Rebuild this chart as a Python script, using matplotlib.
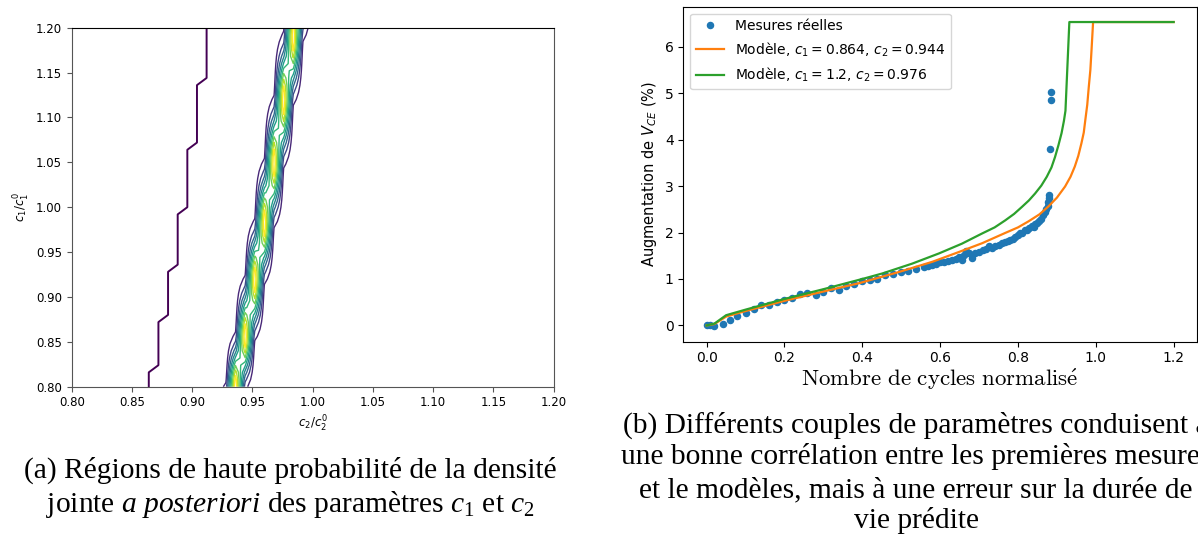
import numpy as np
import matplotlib
matplotlib.use("Agg")
import matplotlib.pyplot as plt
from matplotlib.colors import Normalize

plt.rcParams['mathtext.fontset'] = 'dejavusans'
plt.rcParams['mathtext.rm'] = 'Liberation Serif'
plt.rcParams['mathtext.it'] = 'Liberation Serif:italic'
plt.rcParams['mathtext.bf'] = 'Liberation Serif:bold'

# ---------------- data : panel (a) ----------------
# ridge of the posterior density (centres of the high-probability blobs)
ridge_c1 = [0.800, 0.856, 0.919, 0.982, 1.049, 1.119, 1.190, 1.200]
ridge_c2 = [0.936, 0.944, 0.952, 0.960, 0.968, 0.976, 0.984, 0.985]
# outer (lowest level) contour, staircase
stair_c2 = [0.864, 0.864, 0.872, 0.872, 0.880, 0.880, 0.888, 0.888,
            0.896, 0.896, 0.904, 0.904, 0.912, 0.912]
stair_c1 = [0.800, 0.816, 0.824, 0.872, 0.880, 0.928, 0.936, 0.992,
            1.000, 1.064, 1.072, 1.136, 1.144, 1.200]
ab_ticks = [0.80, 0.85, 0.90, 0.95, 1.00, 1.05, 1.10, 1.15, 1.20]

# ---------------- data : panel (b) ----------------
meas_x = [0.000, 0.008, 0.019, 0.041, 0.060, 0.078, 0.100, 0.121, 0.139, 0.160,
          0.181, 0.200, 0.220, 0.240, 0.258, 0.280, 0.298, 0.320, 0.339, 0.358,
          0.379, 0.399, 0.419, 0.439, 0.459, 0.479, 0.499, 0.518, 0.539, 0.558,
          0.570, 0.580, 0.590, 0.600, 0.610, 0.620, 0.630, 0.640, 0.648, 0.655,
          0.661, 0.666, 0.675, 0.682, 0.690, 0.700, 0.710, 0.718, 0.726, 0.734,
          0.742, 0.750, 0.758, 0.766, 0.774, 0.780, 0.787, 0.793, 0.799, 0.805,
          0.811, 0.817, 0.823, 0.829, 0.835, 0.840, 0.845, 0.850, 0.855, 0.860,
          0.865, 0.869, 0.873, 0.876, 0.878, 0.879, 0.880, 0.882, 0.884, 0.886]
meas_y = [0.00, 0.00, -0.02, 0.04, 0.11, 0.21, 0.27, 0.36, 0.45, 0.44,
          0.51, 0.54, 0.60, 0.68, 0.69, 0.66, 0.72, 0.80, 0.77, 0.85,
          0.90, 0.95, 0.98, 1.01, 1.09, 1.11, 1.16, 1.18, 1.22, 1.25,
          1.27, 1.30, 1.33, 1.36, 1.37, 1.38, 1.40, 1.42, 1.47, 1.41,
          1.51, 1.60, 1.55, 1.45, 1.55, 1.59, 1.62, 1.64, 1.70, 1.66,
          1.70, 1.73, 1.78, 1.79, 1.82, 1.84, 1.86, 1.90, 1.95, 2.00,
          1.98, 2.05, 2.06, 2.10, 2.15, 2.12, 2.18, 2.20, 2.24, 2.30,
          2.38, 2.44, 2.50, 2.57, 2.66, 2.74, 2.81, 3.80, 4.85, 5.03]

orange_x = [0.0, 0.02, 0.05, 0.10, 0.20, 0.30, 0.392, 0.494, 0.580, 0.648, 0.708,
            0.767, 0.800, 0.827, 0.855, 0.878, 0.900, 0.921, 0.935, 0.946, 0.955,
            0.963, 0.969, 0.973, 0.978, 0.982, 0.986, 0.989, 0.993, 1.2]
orange_y = [0.0, 0.03, 0.19, 0.31, 0.53, 0.73, 0.91, 1.15, 1.37, 1.58, 1.77,
            1.99, 2.11, 2.24, 2.39, 2.56, 2.75, 2.99, 3.20, 3.42, 3.65,
            3.92, 4.15, 4.42, 4.75, 5.14, 5.50, 5.93, 6.53, 6.53]
green_x = [0.0, 0.02, 0.05, 0.10, 0.20, 0.30, 0.40, 0.452, 0.528, 0.597, 0.656,
           0.708, 0.740, 0.767, 0.790, 0.810, 0.828, 0.844, 0.860, 0.874, 0.886,
           0.895, 0.904, 0.912, 0.918, 0.922, 0.932, 1.2]
green_y = [0.0, 0.04, 0.22, 0.34, 0.57, 0.78, 1.00, 1.12, 1.33, 1.55, 1.76,
           1.98, 2.11, 2.26, 2.40, 2.55, 2.69, 2.84, 3.01, 3.20, 3.40,
           3.62, 3.88, 4.14, 4.40, 4.62, 6.53, 6.53]

lbl_meas = "Mesures réelles"
lbl_orange = "Modèle, $c_1 = 0.864$, $c_2 = 0.944$"
lbl_green = "Modèle, $c_1 = 1.2$, $c_2 = 0.976$"

cap_a = ["(a) Régions de haute probabilité de la densité",
         r"jointe $\mathit{a\ posteriori}$ des paramètres $c_1$ et $c_2$"]
cap_b = ["(b) Différents couples de paramètres conduisent à",
         "une bonne corrélation entre les premières mesures",
         "et le modèles, mais à une erreur sur la durée de",
         "vie prédite"]

W, H = 1198, 535
fig = plt.figure(figsize=(W / 100, H / 100), dpi=100)


def ax_rect(l, t, r, b):
    return [l / W, 1 - b / H, (r - l) / W, (b - t) / H]


# ---------------- panel (a) ----------------
axa = fig.add_axes(ax_rect(71.7, 27.7, 553.5, 386.7))
step = 0.008
g = np.round(np.arange(0.80, 1.2 + step / 2, step), 4)
C2, C1 = np.meshgrid(g, g)
centre = np.interp(C1, ridge_c1, ridge_c2)
Z = np.exp(-0.5 * ((C2 - centre) / 0.004) ** 2)
levels = np.linspace(0.1, 0.9, 9)
axa.contour(C2, C1, Z, levels=levels, cmap='viridis',
            norm=Normalize(0.0, 0.9), linewidths=1.0)
axa.plot(stair_c2, stair_c1, color=plt.get_cmap('viridis')(0.0), lw=1.4)
axa.set_xlim(0.80, 1.20)
axa.set_ylim(0.80, 1.20)
axa.set_xticks(ab_ticks)
axa.set_yticks(ab_ticks)
axa.xaxis.set_major_formatter(matplotlib.ticker.FormatStrFormatter('%.2f'))
axa.yaxis.set_major_formatter(matplotlib.ticker.FormatStrFormatter('%.2f'))
axa.tick_params(labelsize=8.5, color='#555555')
for s in ['left', 'bottom', 'right']:
    axa.spines[s].set_color('#555555')
axa.set_xlabel(r'$c_2/c_2^0$', fontsize=8.5, labelpad=3)
axa.set_ylabel(r'$c_1/c_1^0$', fontsize=8.5, labelpad=3)

# ---------------- panel (b) ----------------
axb = fig.add_axes(ax_rect(683.3, 6.7, 1197.0, 341.7))
axb.plot(meas_x, meas_y, 'o', color='#1f77b4', ms=4.4, label=lbl_meas, zorder=2)
axb.plot(orange_x, orange_y, color='#ff7f0e', lw=1.6, label=lbl_orange, zorder=3)
axb.plot(green_x, green_y, color='#2ca02c', lw=1.6, label=lbl_green, zorder=3)
axb.set_xlim(-0.06, 1.26)
axb.set_ylim(-0.35, 6.86)
axb.set_xticks([0.0, 0.2, 0.4, 0.6, 0.8, 1.0, 1.2])
axb.set_yticks([0, 1, 2, 3, 4, 5, 6])
axb.tick_params(labelsize=10)
axb.set_ylabel('Augmentation de $V_{CE}$ (%)', fontsize=10.5)
axb.set_xlabel(r'$\mathrm{Nombre\ de\ cycles\ normalis\acute{e}}$',
               fontsize=16.5, math_fontfamily='cm', labelpad=1)
axb.legend(loc='upper left', fontsize=10)

# ---------------- captions ----------------
cap_font = 'Liberation Serif'
t0 = fig.text(290 / W, 1 - 470 / H, cap_a[0], ha='center', va='center',
              family=cap_font, fontsize=19, math_fontfamily='custom')
r = fig.canvas.get_renderer()
fs = 19 * 535 / t0.get_window_extent(r).width
t0.set_fontsize(fs)
fig.text(290 / W, 1 - 505 / H, cap_a[1], ha='center', va='center',
         family=cap_font, fontsize=fs, math_fontfamily='custom')
for txt, yy in zip(cap_b, [425, 457, 490, 521]):
    fig.text(916 / W, 1 - yy / H, txt, ha='center', va='center',
             family=cap_font, fontsize=fs, math_fontfamily='custom')

fig.savefig('out.png', dpi=100)
